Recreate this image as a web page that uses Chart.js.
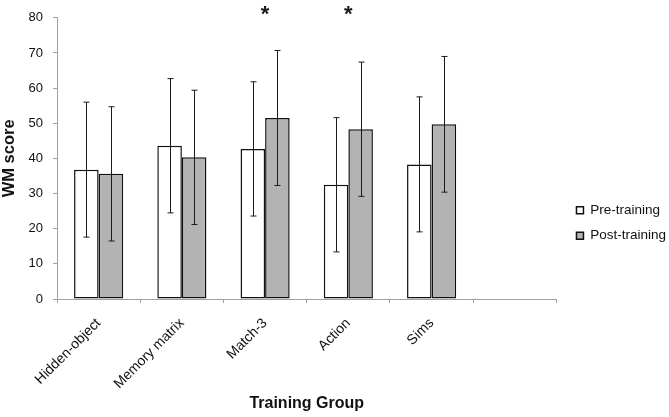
<!DOCTYPE html>
<html>
<head>
<meta charset="utf-8">
<script src="https://cdn.jsdelivr.net/npm/chart.js@4.4.1/dist/chart.umd.min.js"></script>
<style>
html,body{margin:0;padding:0;background:#fff;}
#wrap{width:669px;height:417px;position:relative;}
</style>
</head>
<body>
<div id="wrap"><canvas id="c"></canvas></div>
<script>
const categories = ['Hidden-object', 'Memory matrix', 'Match-3', 'Action', 'Sims', ''];
const preTraining = [36.8, 43.6, 42.7, 32.5, 38.3, null];
const postTraining = [35.6, 40.3, 51.5, 48.3, 49.7, null];
const preError = [19.2, 19.1, 19.1, 19.1, 19.2, null];
const postError = [19.1, 19.1, 19.2, 19.1, 19.3, null];
const significant = [false, false, true, true, false, false];
const yTickValues = [0, 10, 20, 30, 40, 50, 60, 70, 80];
const seriesNames = ['Pre-training', 'Post-training'];

const FONT = "'Liberation Sans', Arial, sans-serif";

const errorBarPlugin = {
  id: 'errorBars',
  afterDatasetsDraw(chart) {
    const ctx = chart.ctx;
    const yScale = chart.scales.y;
    const errs = [preError, postError];
    ctx.save();
    ctx.strokeStyle = '#1a1a1a';
    ctx.lineWidth = 1;
    chart.data.datasets.forEach((ds, d) => {
      const meta = chart.getDatasetMeta(d);
      meta.data.forEach((bar, i) => {
        const v = ds.data[i];
        const e = errs[d][i];
        if (v == null || e == null) return;
        const x = Math.round(bar.x) + 0.5;
        const yt = yScale.getPixelForValue(v + e);
        const yb = yScale.getPixelForValue(v - e);
        ctx.beginPath();
        ctx.moveTo(x, yt); ctx.lineTo(x, yb);
        ctx.moveTo(x - 3, yt); ctx.lineTo(x + 3, yt);
        ctx.moveTo(x - 3, yb); ctx.lineTo(x + 3, yb);
        ctx.stroke();
      });
    });
    ctx.restore();
  }
};

const starPlugin = {
  id: 'stars',
  afterDatasetsDraw(chart) {
    const ctx = chart.ctx;
    const xScale = chart.scales.x;
    ctx.save();
    ctx.fillStyle = '#1a1a1a';
    ctx.font = 'bold 22px ' + FONT;
    ctx.textAlign = 'center';
    ctx.textBaseline = 'alphabetic';
    significant.forEach((s, i) => {
      if (!s) return;
      ctx.fillText('*', xScale.getPixelForValue(i), 21);
    });
    ctx.restore();
  }
};

const legendMovePlugin = {
  id: 'legendMove',
  afterLayout(chart) {
    const lg = chart.legend;
    if (!lg) return;
    lg.top += 10;
    lg.bottom += 10;
    lg.left += 8;
    lg.right += 8;
  }
};

new Chart(document.getElementById('c'), {
  type: 'bar',
  data: {
    labels: categories,
    datasets: [
      {
        label: seriesNames[0],
        data: preTraining,
        backgroundColor: '#ffffff',
        borderColor: '#111111',
        borderWidth: 1.5,
        borderSkipped: false
      },
      {
        label: seriesNames[1],
        data: postTraining,
        backgroundColor: '#b3b3b3',
        borderColor: '#111111',
        borderWidth: 1.5,
        borderSkipped: false
      }
    ]
  },
  options: {
    responsive: true,
    maintainAspectRatio: false,
    animation: false,
    devicePixelRatio: 1,
    layout: { padding: { left: 0, right: 1, top: 9, bottom: 0 } },
    datasets: { bar: { categoryPercentage: 0.59, barPercentage: 1.0 } },
    plugins: {
      legend: {
        position: 'right',
        align: 'center',
        labels: {
          boxWidth: 7,
          boxHeight: 7,
          padding: 12,
          color: '#111',
          font: { family: FONT, size: 13.5 }
        }
      },
      tooltip: { enabled: false }
    },
    scales: {
      x: {
        afterFit(scale) { scale.height = 118; },
        grid: { drawOnChartArea: false, drawTicks: true, tickLength: 4, color: '#a0a0a0', offset: true },
        border: { color: '#a0a0a0', width: 1 },
        ticks: {
          autoSkip: false,
          minRotation: 45,
          maxRotation: 45,
          padding: 12,
          color: '#111',
          font: { family: FONT, size: 14 }
        },
        title: {
          display: true,
          text: 'Training Group',
          color: '#111',
          font: { family: FONT, size: 16, weight: 'bold' },
          padding: { top: 4, bottom: 4 }
        }
      },
      y: {
        min: 0,
        max: 80,
        afterFit(scale) { scale.width = 57; },
        afterBuildTicks(axis) { axis.ticks = yTickValues.map(v => ({ value: v })); },
        grid: { drawOnChartArea: false, drawTicks: true, tickLength: 4, color: '#a0a0a0' },
        border: { color: '#a0a0a0', width: 1 },
        ticks: {
          padding: 10,
          color: '#111',
          font: { family: FONT, size: 13 }
        },
        title: {
          display: true,
          text: 'WM score',
          color: '#111',
          font: { family: FONT, size: 16.5, weight: 'bold' },
          padding: { top: 0, bottom: 6 }
        }
      }
    }
  },
  plugins: [errorBarPlugin, starPlugin, legendMovePlugin]
});
</script>
</body>
</html>
